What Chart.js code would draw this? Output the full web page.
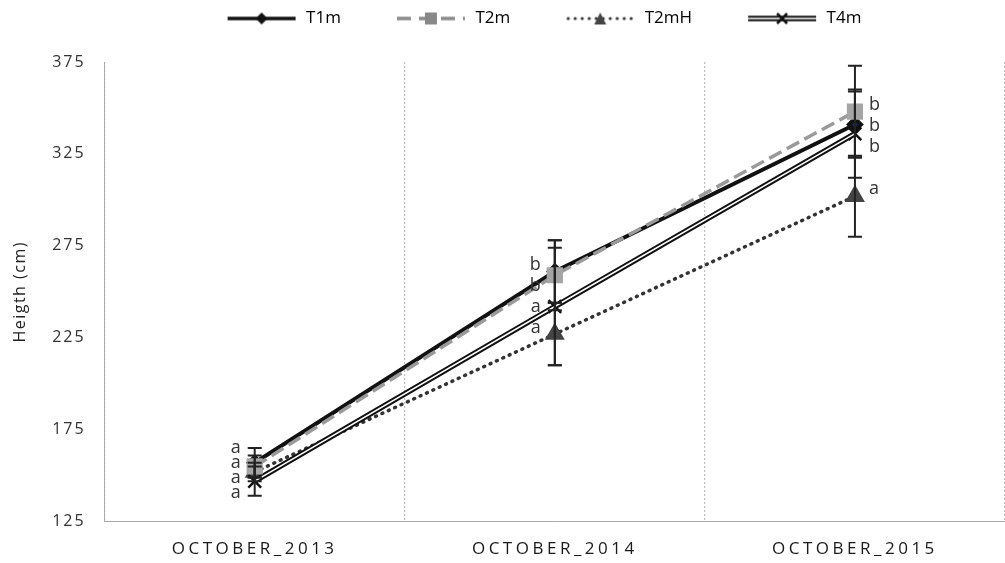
<!DOCTYPE html>
<html>
<head>
<meta charset="utf-8">
<script src="https://cdn.jsdelivr.net/npm/chart.js@4"></script>
<style>
  html, body { margin: 0; padding: 0; background: #fff; }
  #wrap { width: 1005px; height: 563px; }
</style>
</head>
<body>
<div id="wrap"><canvas id="myChart" width="1005" height="563"></canvas></div>
<script>
const labels = ["OCTOBER_2013", "OCTOBER_2014", "OCTOBER_2015"];
const yTicks = [125, 175, 225, 275, 325, 375];

const t1m = [157, 261, 341];
const t2m = [155, 259, 348];
const t2mH = [152, 227, 302];
const t4m = [147, 242, 336];

const t1mErr = [8, 17, 18];
const t2mErr = [6, 19, 25];
const t2mHErr = [5, 17, 22];
const t4mErr = [8, 32, 24];

const t1mLetters = ["a", "b", "b"];
const t2mLetters = ["a", "b", "b"];
const t2mHLetters = ["a", "a", "a"];
const t4mLetters = ["a", "a", "b"];

const LEAD = 44; // blank room before each legend icon

// little legend pictures: line + marker
function legendIcon(kind) {
  const c = document.createElement("canvas");
  c.width = 72 + LEAD;
  c.height = 14;
  const g = c.getContext("2d");
  g.translate(LEAD, 0);
  const m = 7;
  if (kind === "t1m") {
    g.strokeStyle = "#111"; g.lineWidth = 3.5;
    g.beginPath(); g.moveTo(2, m); g.lineTo(70, m); g.stroke();
    g.fillStyle = "#111";
    g.beginPath(); g.moveTo(36, 1); g.lineTo(42, m); g.lineTo(36, 13); g.lineTo(30, m); g.closePath(); g.fill();
  } else if (kind === "t2m") {
    g.strokeStyle = "#8a8a8a"; g.lineWidth = 3.5;
    g.setLineDash([14, 8]);
    g.beginPath(); g.moveTo(2, m); g.lineTo(70, m); g.stroke();
    g.fillStyle = "#888"; g.fillRect(30, 1, 12, 12);
  } else if (kind === "t2mH") {
    g.fillStyle = "#333";
    for (let x = 4; x < 70; x += 7) { g.beginPath(); g.arc(x, m, 1.6, 0, Math.PI * 2); g.fill(); }
    g.fillStyle = "#444";
    g.beginPath(); g.moveTo(36, 1); g.lineTo(42, 13); g.lineTo(30, 13); g.closePath(); g.fill();
  } else {
    g.strokeStyle = "#111"; g.lineWidth = 5.5;
    g.beginPath(); g.moveTo(2, m); g.lineTo(70, m); g.stroke();
    g.strokeStyle = "#fff"; g.lineWidth = 1.5;
    g.beginPath(); g.moveTo(2, m); g.lineTo(70, m); g.stroke();
    g.strokeStyle = "#111"; g.lineWidth = 2.5;
    g.beginPath(); g.moveTo(31, 2); g.lineTo(41, 12); g.moveTo(41, 2); g.lineTo(31, 12); g.stroke();
  }
  return c;
}

const errorBars = {
  id: "errorBars",
  afterDatasetsDraw(chart) {
    const ctx = chart.ctx;
    const y = chart.scales.y;
    ctx.save();
    ctx.strokeStyle = "#222";
    ctx.lineWidth = 2;
    chart.data.datasets.forEach((ds, i) => {
      if (!ds.errors) return;
      const meta = chart.getDatasetMeta(i);
      meta.data.forEach((pt, j) => {
        const top = y.getPixelForValue(ds.data[j] + ds.errors[j]);
        const bot = y.getPixelForValue(ds.data[j] - ds.errors[j]);
        ctx.beginPath();
        ctx.moveTo(pt.x, top); ctx.lineTo(pt.x, bot);
        ctx.moveTo(pt.x - 7, top); ctx.lineTo(pt.x + 7, top);
        ctx.moveTo(pt.x - 7, bot); ctx.lineTo(pt.x + 7, bot);
        ctx.stroke();
      });
    });
    ctx.restore();
  }
};

const letterMarks = {
  id: "letterMarks",
  afterDatasetsDraw(chart) {
    const ctx = chart.ctx;
    const sides = [-1, -1, 1];
    ctx.save();
    ctx.font = "18px 'Open Sans', sans-serif";
    ctx.fillStyle = "#333";
    ctx.textBaseline = "middle";
    labels.forEach((lab, j) => {
      const items = [];
      chart.data.datasets.forEach((ds, i) => {
        if (!ds.letters) return;
        const pt = chart.getDatasetMeta(i).data[j];
        items.push({ t: ds.letters[j], x: pt.x, y: pt.y });
      });
      items.sort((a, b) => a.y - b.y);
      const mean = items.reduce((s, it) => s + it.y, 0) / items.length;
      const gap = j === 0 ? 15 : 21;
      for (let k = 1; k < items.length; k++) {
        if (items[k].y < items[k - 1].y + gap) items[k].y = items[k - 1].y + gap;
      }
      const mean2 = items.reduce((s, it) => s + it.y, 0) / items.length;
      items.forEach(it => {
        ctx.textAlign = sides[j] < 0 ? "right" : "left";
        ctx.fillText(it.t, it.x + sides[j] * 14, it.y - (mean2 - mean));
      });
    });
    ctx.restore();
  }
};

// room under the legend + wider letters on the axes
const spacing = {
  id: "spacing",
  beforeInit(chart) {
    const lg = chart.legend;
    const fit = lg.fit;
    lg.fit = function () {
      fit.bind(lg)();
      this.height += 25;
    };
    const draw = lg.draw;
    lg.draw = function () {
      chart.ctx.save(); chart.ctx.translate(17, 0); draw.bind(lg)(); chart.ctx.restore();
    };
  },
  beforeDraw(chart) {
    [["x", "3.5px"], ["y", "2px"]].forEach(([id, ls]) => {
      const sc = chart.scales[id];
      if (sc._spaced) return;
      sc._spaced = true;
      const dl = sc.drawLabels.bind(sc);
      const dt = sc.drawTitle.bind(sc);
      sc.drawLabels = function (area) {
        chart.ctx.save(); chart.ctx.letterSpacing = ls; dl(area); chart.ctx.restore();
      };
      sc.drawTitle = function () {
        chart.ctx.save(); chart.ctx.letterSpacing = "1.5px"; dt(); chart.ctx.restore();
      };
    });
  }
};

const data = {
  labels: labels,
  datasets: [
    {
      label: "T4m", data: t4m, errors: t4mErr, letters: t4mLetters, icon: "t4m",
      borderColor: "#111", borderWidth: 5.5, pointStyle: "crossRot", pointRadius: 9,
      pointBorderWidth: 2.5, pointBorderColor: "#111", order: 4
    },
    {
      label: "T4m inner", data: t4m, borderColor: "#fff", borderWidth: 1.5,
      pointRadius: 0, order: 3
    },
    {
      label: "T2mH", data: t2mH, errors: t2mHErr, letters: t2mHLetters, icon: "t2mH",
      borderColor: "#333", borderWidth: 3.5, borderDash: [1, 6], borderCapStyle: "round",
      pointStyle: "triangle", pointRadius: 8, pointBackgroundColor: "#444", pointBorderColor: "#444",
      order: 5
    },
    {
      label: "T1m", data: t1m, errors: t1mErr, letters: t1mLetters, icon: "t1m",
      borderColor: "#111", borderWidth: 4, pointStyle: "rectRot", pointRadius: 6,
      pointBackgroundColor: "#1a2a5a", pointBorderColor: "#111", order: 2
    },
    {
      label: "T2m", data: t2m, errors: t2mErr, letters: t2mLetters, icon: "t2m",
      borderColor: "#9a9a9a", borderWidth: 3.5, borderDash: [14, 6],
      pointStyle: "rect", pointRadius: 9, pointBackgroundColor: "#a5a5a5", pointBorderColor: "#a5a5a5",
      order: 1
    }
  ]
};

const legendOrder = ["T1m", "T2m", "T2mH", "T4m"];

const config = {
  type: "line",
  data: data,
  plugins: [errorBars, letterMarks, spacing],
  options: {
    responsive: false,
    animation: false,
    layout: { autoPadding: false, padding: { left: 4, right: 0, top: 0, bottom: 2 } },
    plugins: {
      tooltip: { enabled: false },
      legend: {
        position: "top",
        labels: {
          usePointStyle: true,
          pointStyleWidth: 72 + LEAD,
          color: "#222",
          font: { family: "'Open Sans', sans-serif", size: 17 },
          padding: 10,
          generateLabels(chart) {
            return legendOrder.map(name => {
              const i = chart.data.datasets.findIndex(d => d.label === name);
              const ds = chart.data.datasets[i];
              return {
                text: name, datasetIndex: i, pointStyle: legendIcon(ds.icon),
                fillStyle: "#000", strokeStyle: "#000", lineWidth: 0, hidden: false
              };
            });
          }
        }
      }
    },
    scales: {
      x: {
        offset: true,
        afterFit(scale) { scale.height -= 15; },
        grid: { offset: true, drawTicks: false, color: "#bdbdbd", lineWidth: 1.2 },
        border: { display: true, color: "#aaa", dash: [2, 2] },
        ticks: {
          color: "#1a1a1a", padding: 17,
          font: { family: "'Open Sans', sans-serif", size: 17 }
        }
      },
      y: {
        min: 125, max: 375,
        afterBuildTicks(axis) { axis.ticks = yTicks.map(v => ({ value: v })); },
        grid: { display: false },
        border: { display: true, color: "#aaa", dash: [2, 2] },
        ticks: {
          color: "#333", padding: 11,
          font: { family: "'Open Sans', sans-serif", size: 16 }
        },
        title: {
          display: true, text: "Heigth (cm)", color: "#222",
          font: { family: "'Open Sans', sans-serif", size: 16 }, padding: { top: 7, bottom: 17 }
        }
      }
    }
  }
};

const myChart = new Chart(document.getElementById("myChart"), config);
</script>
</body>
</html>
